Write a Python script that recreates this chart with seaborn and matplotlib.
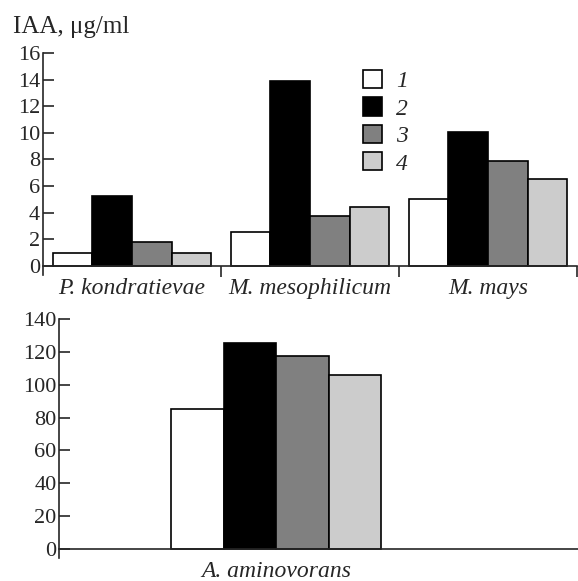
import numpy as np
import pandas as pd
import seaborn as sns
import matplotlib.pyplot as plt
from matplotlib.patches import Patch

# values (IAA, ug/ml)
species_top = ["P. kondratievae", "M. mesophilicum", "M. mays"]
variant_1 = [0.95, 2.5, 5.0]
variant_2 = [5.25, 13.95, 10.05]
variant_3 = [1.75, 3.7, 7.85]
variant_4 = [0.95, 4.4, 6.5]

species_bottom = ["A. aminovorans"]
amino_values = [85.5, 125.3, 117.5, 106.0]

variants = ["1", "2", "3", "4"]
colors = ["#ffffff", "#000000", "#808080", "#cccccc"]

sns.set_style("ticks")
plt.rcParams["font.family"] = ["Liberation Serif", "DejaVu Serif"]
plt.rcParams["font.size"] = 16

top_df = pd.DataFrame({
    "species": np.repeat(species_top, 4),
    "variant": variants * len(species_top),
    "iaa": [v for vals in zip(variant_1, variant_2, variant_3, variant_4) for v in vals],
})
bottom_df = pd.DataFrame({
    "species": species_bottom * 4,
    "variant": variants,
    "iaa": amino_values,
})

fig = plt.figure(figsize=(5.78, 5.81), dpi=100)
ax1 = fig.add_axes([0.0744, 0.527, 0.924, 0.381])
ax2 = fig.add_axes([0.1026, 0.0396, 0.897, 0.411])

sns.barplot(data=top_df, x="species", y="iaa", hue="variant", palette=colors,
            width=0.89, edgecolor="black", linewidth=1.2, ax=ax1, legend=False)
sns.barplot(data=bottom_df, x="species", y="iaa", hue="variant", palette=colors,
            width=0.84, edgecolor="black", linewidth=1.2, ax=ax2, legend=False)

for ax in (ax1, ax2):
    for s in ("top", "right"):
        ax.spines[s].set_visible(False)
    ax.spines["bottom"].set_position(("data", 0))
    ax.spines["left"].set_linewidth(1.2)
    ax.spines["bottom"].set_linewidth(1.2)
    ax.set_xlabel("")
    ax.set_ylabel("")
    ax.tick_params(axis="y", direction="in", length=8, width=1.2, labelsize=16, pad=2)
    ax.tick_params(axis="x", which="major", length=0, labelsize=17, pad=9)
    for lab in ax.get_xticklabels():
        lab.set_fontstyle("italic")

ax1.set_xlim(-0.5, 2.5)
ax1.set_ylim(-0.7, 16)
ax1.set_yticks(range(0, 17, 2))
ax1.set_xticks([0.5, 1.5, 2.5], minor=True)
ax1.tick_params(axis="x", which="minor", direction="out", length=8, width=1.2)

ax2.set_xlim(-0.868, 1.208)
ax2.set_ylim(-5.5, 140)
ax2.set_yticks(range(0, 141, 20))

fig.text(0.022, 0.944, "IAA, \u03bcg/ml", fontsize=18, ha="left", va="baseline")

handles = [Patch(facecolor=c, edgecolor="black", linewidth=1.2) for c in colors]
leg = ax1.legend(handles, variants, loc="upper left", bbox_to_anchor=(0.599, 0.925),
                 frameon=False, handlelength=0.8, handleheight=0.8,
                 handletextpad=0.6, labelspacing=0.22, fontsize=17,
                 borderaxespad=0, borderpad=0)
for t in leg.get_texts():
    t.set_fontstyle("italic")

fig.savefig("out.png", dpi=100)
